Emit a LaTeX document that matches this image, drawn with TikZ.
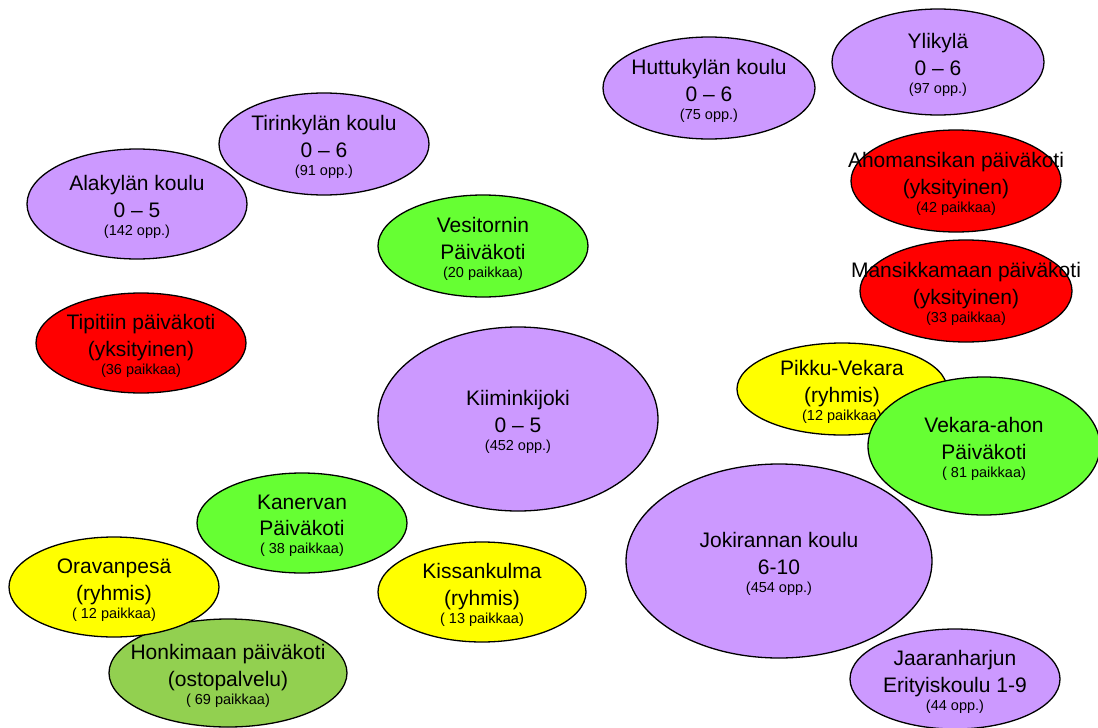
\documentclass[tikz,border=0pt]{standalone}
\usepackage{fontspec}
\setmainfont{Liberation Sans}
\usetikzlibrary{shapes.geometric}
\definecolor{lav}{HTML}{CC99FF}
\definecolor{grn}{HTML}{66FF33}
\definecolor{rd}{HTML}{FF0000}
\definecolor{yel}{HTML}{FFFF00}
\definecolor{olv}{HTML}{92D050}
\tikzset{
  blob/.style={ellipse, draw=black, line width=1.3pt, inner sep=0pt},
  lbl/.style={align=center, inner sep=0pt, text=black, yshift=-3pt, font=\fontsize{21}{26.5}\selectfont},
}
\newcommand\myblob[9]{%
  \node[blob, fill=#6, minimum width=#4pt, minimum height=#5pt] (#1) at (#2,#3) {};
  \node[lbl] (#1-t) at (#1.center) {#7\\#8\\[-8.5pt]{\fontsize{14.5}{16}\selectfont #9}};
}
\begin{document}
\begin{tikzpicture}[x=1pt,y=-1pt]
\useasboundingbox[fill=white] (0,0) rectangle (1098,728);
\myblob{alak}{137}{204}{220}{110}{lav}{Alakylän koulu}{0 – 5}{(142 opp.)}
\myblob{tiri}{324}{144}{210}{102}{lav}{Tirinkylän koulu}{0 – 6}{(91 opp.)}
\myblob{hutt}{709}{88}{212}{102}{lav}{Huttukylän koulu}{0 – 6}{(75 opp.)}
\myblob{ylik}{938}{62}{212}{106}{lav}{Ylikylä}{0 – 6}{(97 opp.)}
\myblob{ahom}{956}{181}{210}{102}{rd}{Ahomansikan päiväkoti}{(yksityinen)}{(42 paikkaa)}
\myblob{mans}{966}{291}{212}{102}{rd}{Mansikkamaan päiväkoti}{(yksityinen)}{(33 paikkaa)}
\myblob{vesi}{483}{246}{210}{102}{grn}{Vesitornin}{Päiväkoti}{(20 paikkaa)}
\myblob{tipi}{141}{343}{210}{100}{rd}{Tipitiin päiväkoti}{(yksityinen)}{(36 paikkaa)}
\myblob{kiim}{518}{419}{280}{184}{lav}{Kiiminkijoki}{0 – 5}{(452 opp.)}
\myblob{pikk}{842}{389}{210}{92}{yel}{Pikku-Vekara}{(ryhmis)}{(12 paikkaa)}
\myblob{joki}{779}{561}{306}{194}{lav}{Jokirannan koulu}{6-10}{(454 opp.)}
\myblob{veka}{984}{446}{232}{138}{grn}{Vekara-ahon}{Päiväkoti}{( 81 paikkaa)}
\myblob{jaar}{955}{679}{210}{100}{lav}{Jaaranharjun}{Erityiskoulu 1-9}{(44 opp.)}
\myblob{kane}{302}{523}{210}{100}{grn}{Kanervan}{Päiväkoti}{( 38 paikkaa)}
\myblob{kiss}{482}{592}{208}{100}{yel}{Kissankulma}{(ryhmis)}{( 13 paikkaa)}
\myblob{honk}{228}{673}{238}{108}{olv}{Honkimaan päiväkoti}{(ostopalvelu)}{( 69 paikkaa)}
\myblob{orav}{114}{587}{210}{100}{yel}{Oravanpesä}{(ryhmis)}{( 12 paikkaa)}
\end{tikzpicture}
\end{document}
